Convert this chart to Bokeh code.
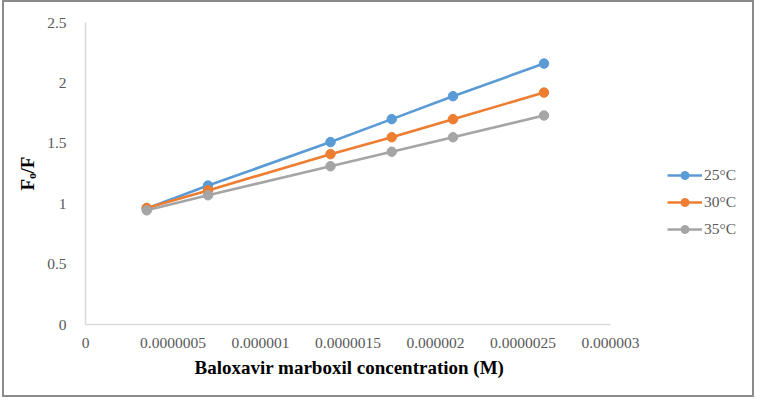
from bokeh.embed import file_html
from bokeh.models import FixedTicker, Legend, LegendItem, Range1d, Title
from bokeh.plotting import figure
from bokeh.resources import INLINE

# Baloxavir marboxil concentration (M)
conc = [0.35e-6, 0.70e-6, 1.40e-6, 1.75e-6, 2.10e-6, 2.62e-6]

# Fo/F at each temperature
f_25 = [0.96, 1.15, 1.51, 1.70, 1.89, 2.16]
f_30 = [0.965, 1.11, 1.41, 1.55, 1.70, 1.92]
f_35 = [0.945, 1.07, 1.31, 1.43, 1.55, 1.73]

series_names = ["25°C", "30°C", "35°C"]
series_values = [f_25, f_30, f_35]
series_colors = ["#5b9bd5", "#ed7d31", "#a5a5a5"]

x_ticks = [0, 0.5e-6, 1.0e-6, 1.5e-6, 2.0e-6, 2.5e-6, 3.0e-6]
x_tick_labels = ["0", "0.0000005", "0.000001", "0.0000015", "0.000002", "0.0000025", "0.000003"]
y_ticks = [0, 0.5, 1.0, 1.5, 2.0, 2.5]
y_tick_labels = ["0", "0.5", "1", "1.5", "2", "2.5"]

x_title = "Baloxavir marboxil concentration (M)"
y_title = "F\u2092/F"

SERIF = "Liberation Serif"
TICK_COLOR = "#595959"
AXIS_COLOR = "#d9d9d9"

# canvas geometry: the drawn x axis spans 0..3e-6 over 525 px starting 81 px in;
# the frame keeps going to the right edge so the legend sits inside it
CANVAS_W, CANVAS_H = 752, 397
AXIS_LEFT, AXIS_LEN = 81, 525
x_end = 3.0e-6 * (CANVAS_W - AXIS_LEFT) / AXIS_LEN

p = figure(
    width=CANVAS_W,
    height=CANVAS_H,
    output_backend="svg",
    toolbar_location=None,
    x_range=Range1d(0, x_end),
    y_range=Range1d(0, 2.5),
    min_border_left=AXIS_LEFT,
    min_border_right=0,
    min_border_top=20,
    min_border_bottom=75,
)
# thin grey frame around the whole chart
p.margin = (0, 0, 0, 2)
p.styles = {"border": "2px solid #8a8a8a"}
p.outline_line_color = None
p.grid.visible = False
p.background_fill_color = "white"
p.border_fill_color = "white"

# x axis
xa = p.xaxis[0]
xa.bounds = (0, 3.0e-6)
xa.ticker = FixedTicker(ticks=x_ticks)
xa.major_label_overrides = {t: s for t, s in zip(x_ticks, x_tick_labels)}

# y axis
ya = p.yaxis[0]
ya.ticker = FixedTicker(ticks=y_ticks)
ya.major_label_overrides = {t: s for t, s in zip(y_ticks, y_tick_labels)}
ya.axis_label = y_title
ya.axis_label_standoff = 6
ya.axis_label_text_font = SERIF
ya.axis_label_text_font_style = "bold"
ya.axis_label_text_font_size = "19px"
ya.axis_label_text_color = "black"

for ax in (xa, ya):
    ax.major_tick_line_color = None
    ax.minor_tick_line_color = None
    ax.axis_line_color = AXIS_COLOR
    ax.axis_line_width = 1.5
    ax.major_label_text_font = SERIF
    ax.major_label_text_font_size = "15.5px"
    ax.major_label_text_color = TICK_COLOR
xa.major_label_standoff = 7
ya.major_label_standoff = 13

# x axis title, centred under the drawn axis rather than the whole frame
p.add_layout(
    Title(
        text=x_title,
        align="left",
        offset=109,
        standoff=8,
        text_font=SERIF,
        text_font_style="bold",
        text_font_size="19px",
        text_color="black",
    ),
    "below",
)

# data series
items = []
for name, vals, color in zip(series_names, series_values, series_colors):
    ln = p.line(conc, vals, line_color=color, line_width=2.6)
    pt = p.scatter(conc, vals, marker="circle", size=9.5, fill_color=color, line_color=color)
    items.append(LegendItem(label=name, renderers=[ln, pt]))

legend = Legend(
    items=items,
    location=(582, 85),
    glyph_width=35,
    glyph_height=20,
    label_height=20,
    label_standoff=2,
    spacing=7,
    padding=0,
    margin=0,
    label_text_font=SERIF,
    label_text_font_size="15.5px",
    label_text_color=TICK_COLOR,
    background_fill_alpha=0,
    border_line_color=None,
)
p.add_layout(legend, "center")

open("out.html", "w").write(file_html(p, INLINE))
